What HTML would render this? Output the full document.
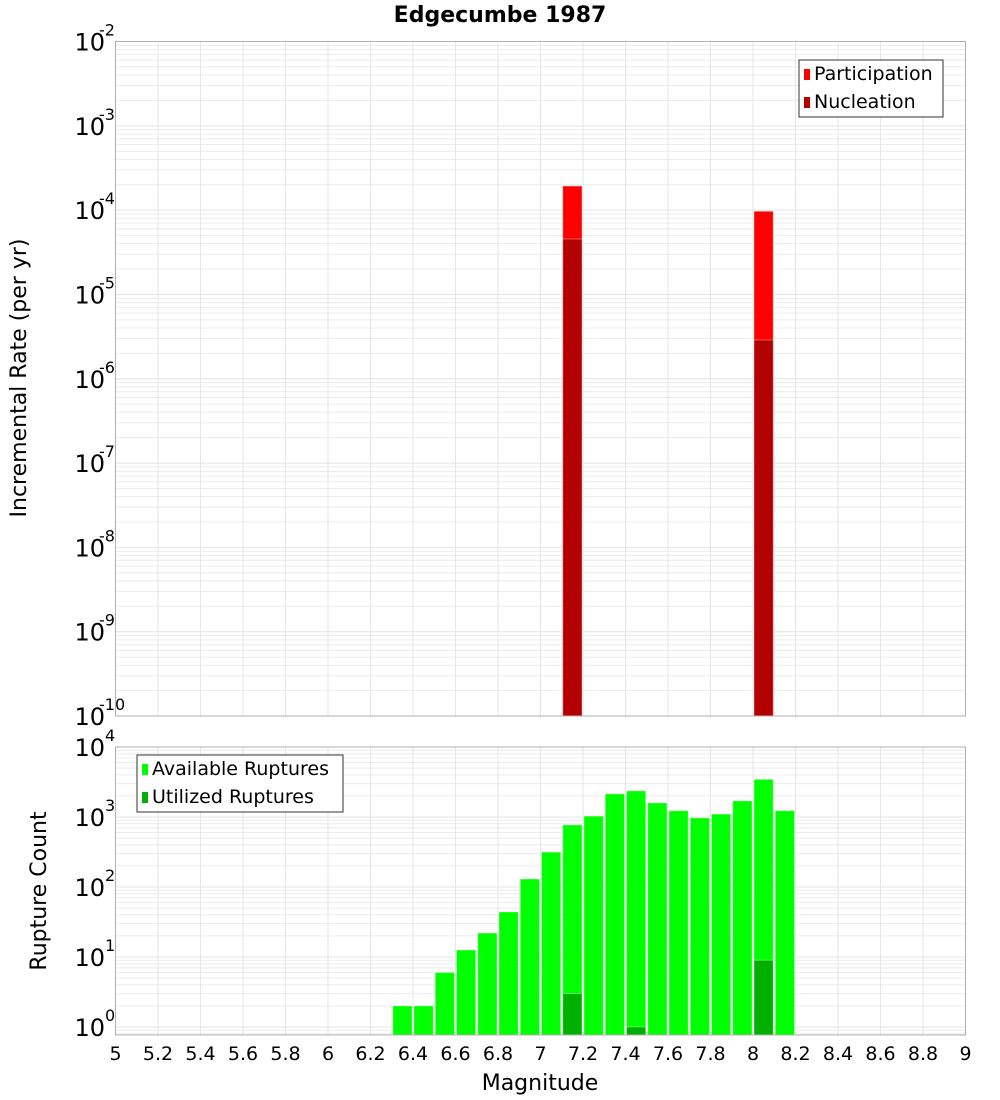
<!DOCTYPE html>
<html><head><meta charset="utf-8">
<style>
html,body{margin:0;padding:0;background:#fff;}
svg{display:block;font-family:"DejaVu Sans","Liberation Sans",sans-serif;}
</style></head>
<body>
<svg id="chart" width="1000" height="1100" viewBox="0 0 1000 1100" xmlns="http://www.w3.org/2000/svg">
<text x="500" y="22" text-anchor="middle" font-size="22" font-weight="bold">Edgecumbe 1987</text>
<g id="top"></g>
<g id="bot"></g>
<text transform="translate(26,378) rotate(-90)" text-anchor="middle" font-size="22">Incremental Rate (per yr)</text>
<text transform="translate(46,891) rotate(-90)" text-anchor="middle" font-size="22">Rupture Count</text>
<text x="540" y="1090" text-anchor="middle" font-size="22">Magnitude</text>
</svg>
<script>
// Top chart data
const rateBins = [7.15, 8.05];
const participationRates = [1.93e-4, 9.7e-5];
const nucleationRates = [4.54e-5, 2.88e-6];
// Bottom chart data
const countBins = [6.35,6.45,6.55,6.65,6.75,6.85,6.95,7.05,7.15,7.25,7.35,7.45,7.55,7.65,7.75,7.85,7.95,8.05,8.15];
const availableCounts = [2,2,6,12.6,22,44,130,315,770,1030,2140,2360,1590,1230,970,1100,1700,3450,1230];
const utilizedBins = [7.15, 7.45, 8.05];
const utilizedCounts = [3, 1, 9];
const xTicks = [5,5.2,5.4,5.6,5.8,6,6.2,6.4,6.6,6.8,7,7.2,7.4,7.6,7.8,8,8.2,8.4,8.6,8.8,9];
const topDecades = [-2,-3,-4,-5,-6,-7,-8,-9,-10];
const botDecades = [4,3,2,1,0];

const NS = "http://www.w3.org/2000/svg";
const X0 = 115.5, X1 = 965.5;
const xs = m => X0 + (m - 5) / 4 * (X1 - X0);
const binW = 0.1;
function el(parent, tag, attrs) {
  const e = document.createElementNS(NS, tag);
  for (const k in attrs) e.setAttribute(k, attrs[k]);
  parent.appendChild(e);
  return e;
}
function panel(g, top, bottom, yTop, perDec, minLog, maxLog, decades, prefix) {
  const ys = v => yTop + (maxLog - Math.log10(v)) * perDec;
  const bg = el(g, 'rect', {x: X0, y: top, width: X1 - X0, height: bottom - top, fill: '#fff'});
  
  
  // horizontal grid
  for (let d = Math.floor(minLog); d <= maxLog; d++) {
    for (let k = 1; k <= 9; k++) {
      const v = k * Math.pow(10, d);
      const y = ys(v);
      if (y < top || y > bottom) continue;
      const ln = el(g, 'line', {x1: X0, x2: X1, y1: y, y2: y, stroke: k === 1 ? '#e4e4e4' : '#ececec', 'stroke-width': 1});
      
      
    }
  }
  xTicks.forEach(t => {
    const ln = el(g, 'line', {x1: xs(t), x2: xs(t), y1: top, y2: bottom, stroke: '#e6e6e6', 'stroke-width': 1});
    
    
  });
  decades.forEach(d => {
    const y = ys(Math.pow(10, d));
    const t = el(g, 'text', {x: 105, y: y + 9, 'text-anchor': 'end', 'font-size': 24});
    
    
    t.textContent = '10';
    const s = el(g, 'text', {x: 105, y: y - 6, 'text-anchor': 'start', 'font-size': 16});
    
    
    s.textContent = String(d);
    if (d < 0) s.setAttribute('x', 99);
  });
  return ys;
}
function frame(g, top, bottom, prefix) {
  const f = el(g, 'rect', {x: X0, y: top, width: X1 - X0, height: bottom - top, fill: 'none', stroke: '#b0b0b0', 'stroke-width': 1});
  
  
}
function bar(g, m, v, ys, bottom, color, name) {
  const y = Math.max(ys(v), 0);
  const r = el(g, 'rect', {x: xs(m - binW / 2) + 1, y: y, width: xs(m + binW / 2) - xs(m - binW / 2) - 2, height: bottom - y, fill: color, stroke: 'rgba(255,255,255,0.35)', 'stroke-width': 1});
  
  
}
function legend(g, x, y, w, items, prefix) {
  const b = el(g, 'rect', {x: x, y: y, width: w, height: 57, fill: '#fff', stroke: '#333', 'stroke-width': 1});
  
  
  items.forEach((it, i) => {
    const sw = el(g, 'rect', {x: x + 5, y: y + 9 + i * 28, width: 6, height: 11, fill: it[1]});
    
    
    const t = el(g, 'text', {x: x + 15, y: y + 20 + i * 28, 'font-size': 19});
    
    
    t.textContent = it[0];
  });
}
// TOP
const gt = document.getElementById('top');
const TT = 41.5, TB = 716, TPD = (TB - TT) / 8;
const ysT = panel(gt, TT, TB, TT, TPD, -10, -2, topDecades, 'top');
rateBins.forEach((m, i) => bar(gt, m, participationRates[i], ysT, TB, '#ff0000', 'participation-bar'));
rateBins.forEach((m, i) => bar(gt, m, nucleationRates[i], ysT, TB, '#b30000', 'nucleation-bar'));
frame(gt, TT, TB, 'top');
legend(gt, 799, 60, 144, [['Participation', '#ff0000'], ['Nucleation', '#b30000']], 'top');
// BOTTOM
const gb = document.getElementById('bot');
const BT = 747, BB = 1035, BPD = 70;
const ysB = panel(gb, BT, BB, BT, BPD, -1, 4, botDecades, 'bottom');
countBins.forEach((m, i) => bar(gb, m, availableCounts[i], ysB, BB, '#00ff00', 'available-bar'));
utilizedBins.forEach((m, i) => bar(gb, m, utilizedCounts[i], ysB, BB, '#00b000', 'utilized-bar'));
frame(gb, BT, BB, 'bottom');
legend(gb, 137, 755, 206, [['Available Ruptures', '#00ff00'], ['Utilized Ruptures', '#00b000']], 'bottom');
xTicks.forEach(t => {
  const tx = el(gb, 'text', {x: xs(t), y: 1060, 'text-anchor': 'middle', 'font-size': 19});
  
  
  tx.textContent = String(t);
});
</script>
</body></html>
